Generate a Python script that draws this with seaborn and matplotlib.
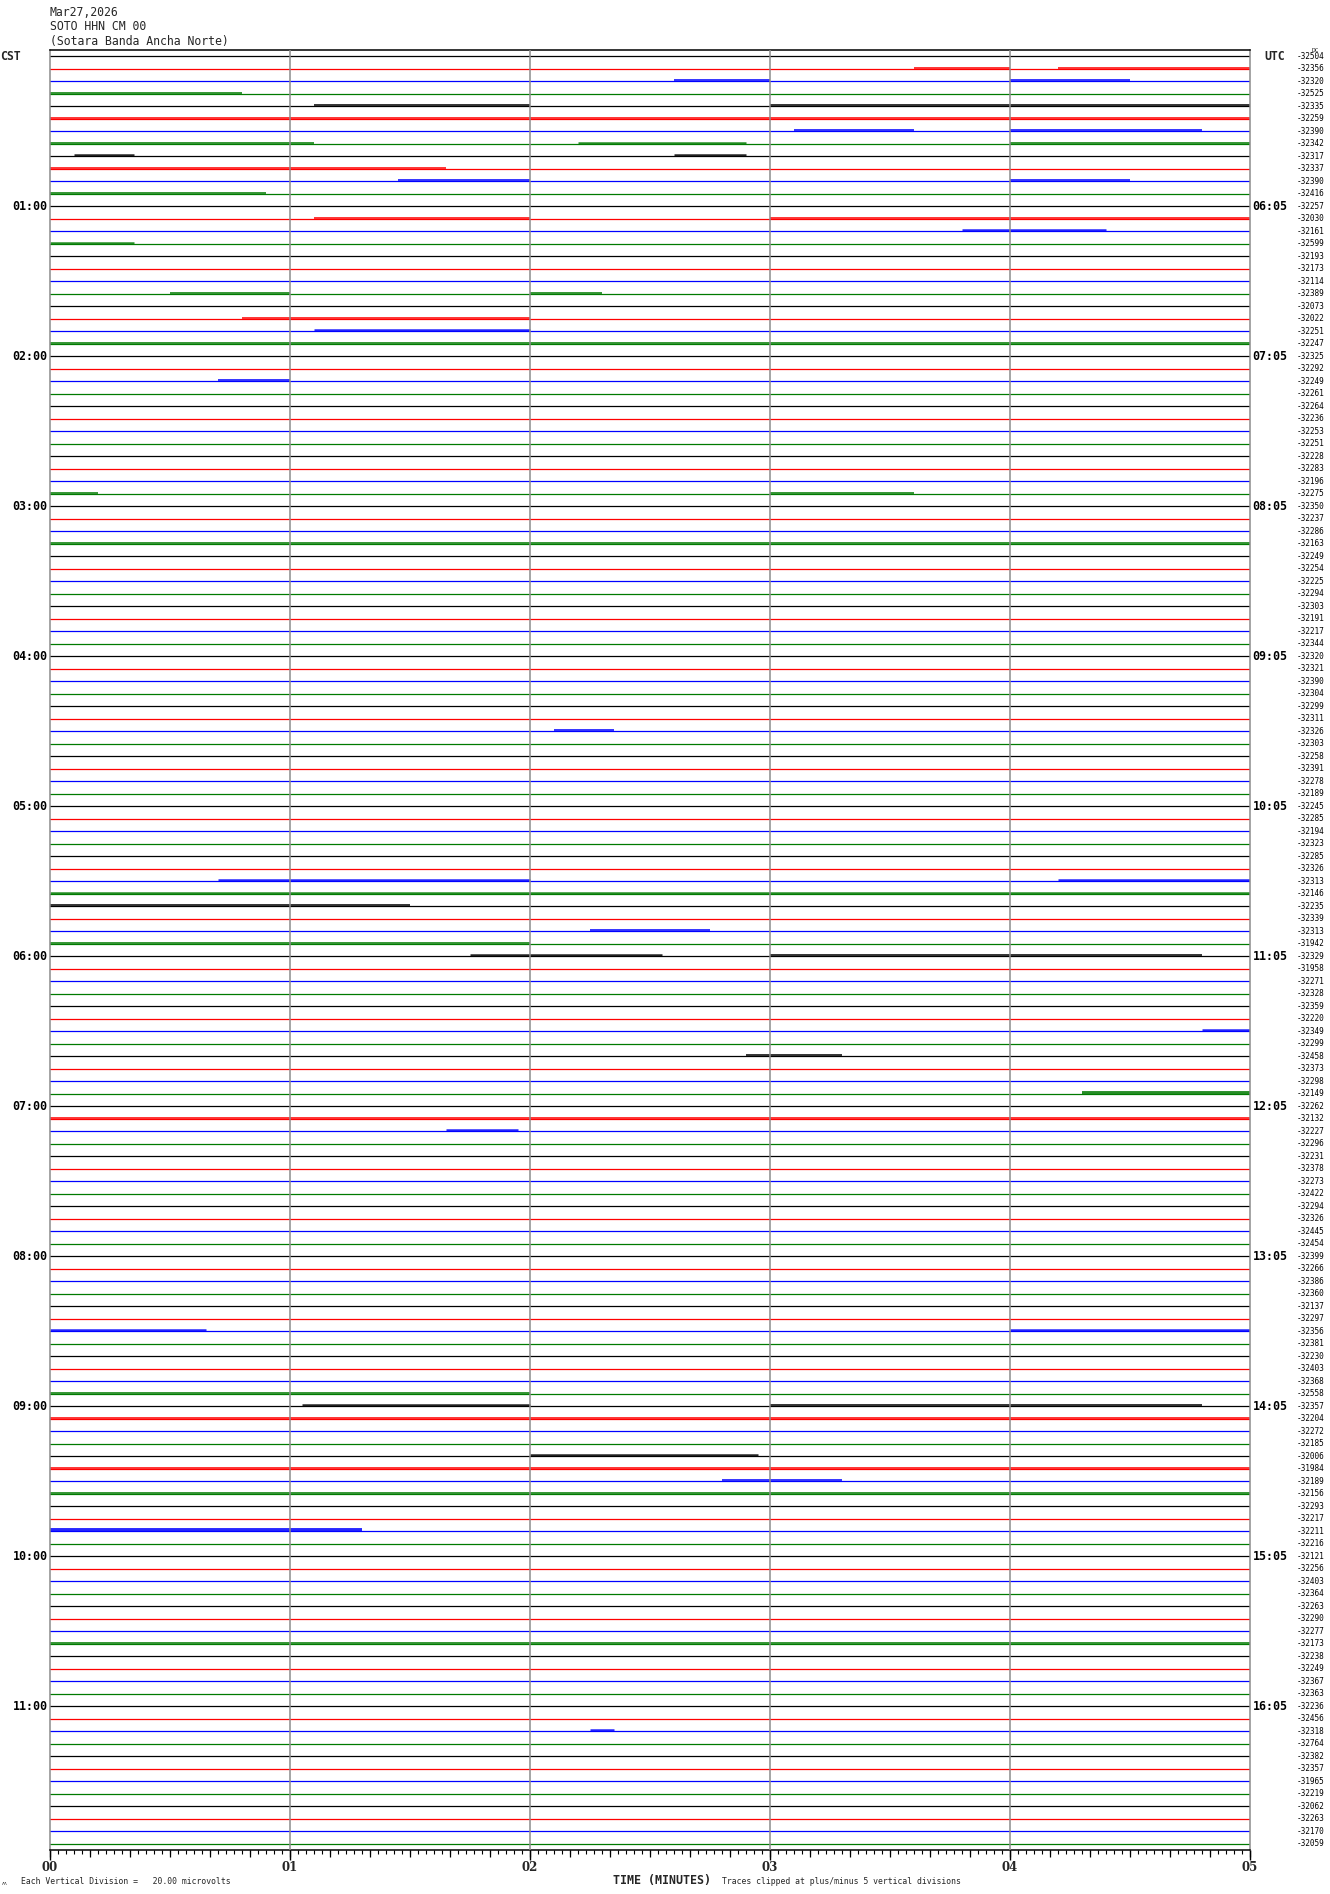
import matplotlib
matplotlib.use("Agg")
import matplotlib.pyplot as plt
import matplotlib.transforms as mtransforms
import numpy as np
import pandas as pd
import seaborn as sns

# ---------------- data ----------------
title_lines = ["Mar27,2026", "SOTO HHN CM 00", "(Sotara Banda Ancha Norte)"]
cst_labels = ["01:00", "02:00", "03:00", "04:00", "05:00", "06:00",
              "07:00", "08:00", "09:00", "10:00", "11:00"]
utc_labels = ["06:05", "07:05", "08:05", "09:05", "10:05", "11:05",
              "12:05", "13:05", "14:05", "15:05", "16:05"]
minute_labels = ["00", "01", "02", "03", "04", "05"]
trace_colors = ["#000000", "#ff0000", "#0000ff", "#007a00"]

dc_offsets = [
    -32504, -32356, -32320, -32525, -32335, -32259, -32390, -32342, -32317, -32337, -32390, -32416,
    -32257, -32030, -32161, -32599, -32193, -32173, -32114, -32389, -32073, -32022, -32251, -32247,
    -32325, -32292, -32249, -32261, -32264, -32236, -32253, -32251, -32228, -32283, -32196, -32275,
    -32350, -32237, -32286, -32163, -32249, -32254, -32225, -32294, -32303, -32191, -32217, -32344,
    -32320, -32321, -32390, -32304, -32299, -32311, -32326, -32303, -32258, -32391, -32278, -32189,
    -32245, -32285, -32194, -32323, -32285, -32326, -32313, -32146, -32235, -32339, -32313, -31942,
    -32329, -31958, -32271, -32328, -32359, -32220, -32349, -32299, -32458, -32373, -32298, -32149,
    -32262, -32132, -32227, -32296, -32231, -32378, -32273, -32422, -32294, -32326, -32445, -32454,
    -32399, -32266, -32386, -32360, -32137, -32297, -32356, -32381, -32230, -32403, -32368, -32558,
    -32357, -32204, -32272, -32185, -32006, -31984, -32189, -32156, -32293, -32217, -32211, -32216,
    -32121, -32256, -32403, -32364, -32263, -32290, -32277, -32173, -32238, -32249, -32367, -32363,
    -32236, -32456, -32318, -32764, -32382, -32357, -31965, -32219, -32062, -32263, -32170, -32059,
]

# noisy stretches: (trace index, start minute, end minute, strength)
noisy_segments = [
    (1, 3.6, 4.0, 1), (1, 4.2, 5.0, 1), (2, 2.6, 3.0, 1), (2, 4.0, 4.5, 1),
    (3, 0.0, 0.8, 1), (4, 1.1, 2.0, 1), (4, 3.0, 5.0, 1), (5, 0.0, 5.0, 1),
    (6, 3.1, 3.6, 1), (6, 4.0, 4.8, 1), (7, 0.0, 1.1, 1), (7, 2.2, 2.9, 2), (7, 4.0, 5.0, 1),
    (8, 0.1, 0.35, 2), (8, 2.6, 2.9, 2), (9, 0.0, 1.65, 1), (10, 1.45, 2.0, 1), (10, 4.0, 4.5, 1),
    (11, 0.0, 0.9, 1), (13, 1.1, 2.0, 1), (13, 3.0, 5.0, 1), (14, 3.8, 4.4, 2),
    (15, 0.0, 0.35, 2), (19, 0.5, 1.0, 1), (19, 2.0, 2.3, 1), (21, 0.8, 2.0, 1),
    (22, 1.1, 2.0, 2), (23, 0.0, 5.0, 1), (26, 0.7, 1.0, 1), (35, 0.0, 0.2, 1), (35, 3.0, 3.6, 1),
    (39, 0.0, 5.0, 1), (54, 2.1, 2.35, 1), (66, 0.7, 2.0, 2), (66, 4.2, 5.0, 2),
    (67, 0.0, 5.0, 2), (68, 0.0, 1.5, 1), (70, 2.25, 2.75, 1), (71, 0.0, 2.0, 1),
    (72, 1.75, 2.55, 2), (72, 3.0, 4.8, 1), (78, 4.8, 5.0, 2), (80, 2.9, 3.3, 1),
    (83, 4.3, 5.0, 3), (85, 0.0, 5.0, 1), (86, 1.65, 1.95, 2), (102, 0.0, 0.65, 2),
    (102, 4.0, 5.0, 2), (107, 0.0, 2.0, 1), (108, 1.05, 2.0, 2), (108, 3.0, 4.8, 1),
    (109, 0.0, 5.0, 1), (112, 2.0, 2.95, 2), (113, 0.0, 5.0, 1), (114, 2.8, 3.3, 1),
    (115, 0.0, 5.0, 1), (118, 0.0, 1.3, 3), (127, 0.0, 5.0, 1), (134, 2.25, 2.35, 2),
]

n_traces = len(dc_offsets)

# ---------------- figure ----------------
W, H = 1330, 1894
sns.set_theme(style="white")
plt.rcParams["font.family"] = ["DejaVu Sans Mono", "DejaVu Sans"]

fig = plt.figure(figsize=(W / 100, H / 100), dpi=100)
ax = fig.add_axes([50 / W, 1 - 1850 / H, 1200 / W, 1800 / H])

def fx(x):
    return x / W

def fy(y):
    return 1 - y / H

rows = []
for i in range(n_traces):
    for t in (0.0, 5.0):
        rows.append({"trace": i, "minute": t, "pos": i, "cidx": i % 4})
df = pd.DataFrame(rows)

for c_i, col in enumerate(trace_colors):
    sub = df[df["cidx"] == c_i]
    sns.lineplot(data=sub, x="minute", y="pos", units="trace", estimator=None,
                 color=col, linewidth=0.9, ax=ax, legend=False, zorder=2)

strength_lw = {1: 1.3, 2: 1.8, 3: 2.8}
for (tr, t0, t1, s) in noisy_segments:
    ax.plot([t0, t1], [tr - 0.08, tr - 0.08], color=trace_colors[tr % 4],
            linewidth=strength_lw[s], solid_capstyle="butt", zorder=2, alpha=0.85)

for m in range(1, 5):
    ax.axvline(m, color="#8c8c8c", linewidth=1.1, zorder=4)

ax.set_xlim(0, 5)
ax.set_ylim(n_traces - 0.5, -0.5)
ax.set_xlabel("")
ax.set_ylabel("")
ax.set_yticks([])

ax.spines["top"].set_color("#000000")
ax.spines["bottom"].set_color("#000000")
ax.spines["left"].set_color("#8c8c8c")
ax.spines["right"].set_color("#8c8c8c")
for sp in ax.spines.values():
    sp.set_linewidth(1.1)

ax.set_xticks(range(6))
ax.set_xticklabels(minute_labels, fontfamily="DejaVu Serif", fontweight="bold", fontsize=8.5)
ax.set_xticks(np.arange(0, 5.0001, 1 / 30), minor=True)
ax.tick_params(axis="x", which="major", direction="out", length=7.2, width=1.0,
               color="black", pad=1, bottom=True)
ax.tick_params(axis="x", which="minor", direction="out", length=2.9, width=0.8,
               color="black", bottom=True)
sec = ax.secondary_xaxis("bottom")
sec.set_xticks(np.arange(0, 5.0001, 1 / 6))
sec.set_xticklabels([])
sec.tick_params(axis="x", direction="out", length=5.0, width=0.9, color="black")
sec.spines["bottom"].set_visible(False)

# hour labels
blend_l = mtransforms.blended_transform_factory(ax.transAxes, ax.transData)
for k, lab in enumerate(cst_labels):
    ax.text(-0.002, 12 * (k + 1), lab, transform=blend_l, ha="right", va="center",
            fontsize=8.4, fontweight="bold", color="black")
for k, lab in enumerate(utc_labels):
    ax.text(1.002, 12 * (k + 1), lab, transform=blend_l, ha="left", va="center",
            fontsize=8.4, fontweight="bold", color="black")

blend_f = mtransforms.blended_transform_factory(fig.transFigure, ax.transData)
for i, v in enumerate(dc_offsets):
    ax.text(fx(1297), i, f"{v}", transform=blend_f, ha="left", va="center",
            fontsize=5.6, color="black")

# header texts
for j, line in enumerate(title_lines):
    fig.text(fx(50), fy([12, 26, 42][j]), line, ha="left", va="center", fontsize=8.3)
fig.text(fx(0), fy(57), "CST", ha="left", va="center", fontsize=8.3, fontweight="bold")
fig.text(fx(1264), fy(57), "UTC", ha="left", va="center", fontsize=8.3, fontweight="bold")
fig.text(fx(1312), fy(51), "DC", ha="left", va="center", fontsize=4.5)

# footer texts
fig.text(fx(2), fy(1883), "ʌʌ", ha="left", va="center", fontsize=3.5)
fig.text(fx(21), fy(1881), "Each Vertical Division =   20.00 microvolts",
         ha="left", va="center", fontsize=5.9)
fig.text(fx(613), fy(1880), "TIME (MINUTES)", ha="left", va="center",
         fontsize=8.4, fontweight="bold")
fig.text(fx(722), fy(1881), "Traces clipped at plus/minus 5 vertical divisions",
         ha="left", va="center", fontsize=5.9)

fig.savefig("out.png", dpi=100, facecolor="white")
